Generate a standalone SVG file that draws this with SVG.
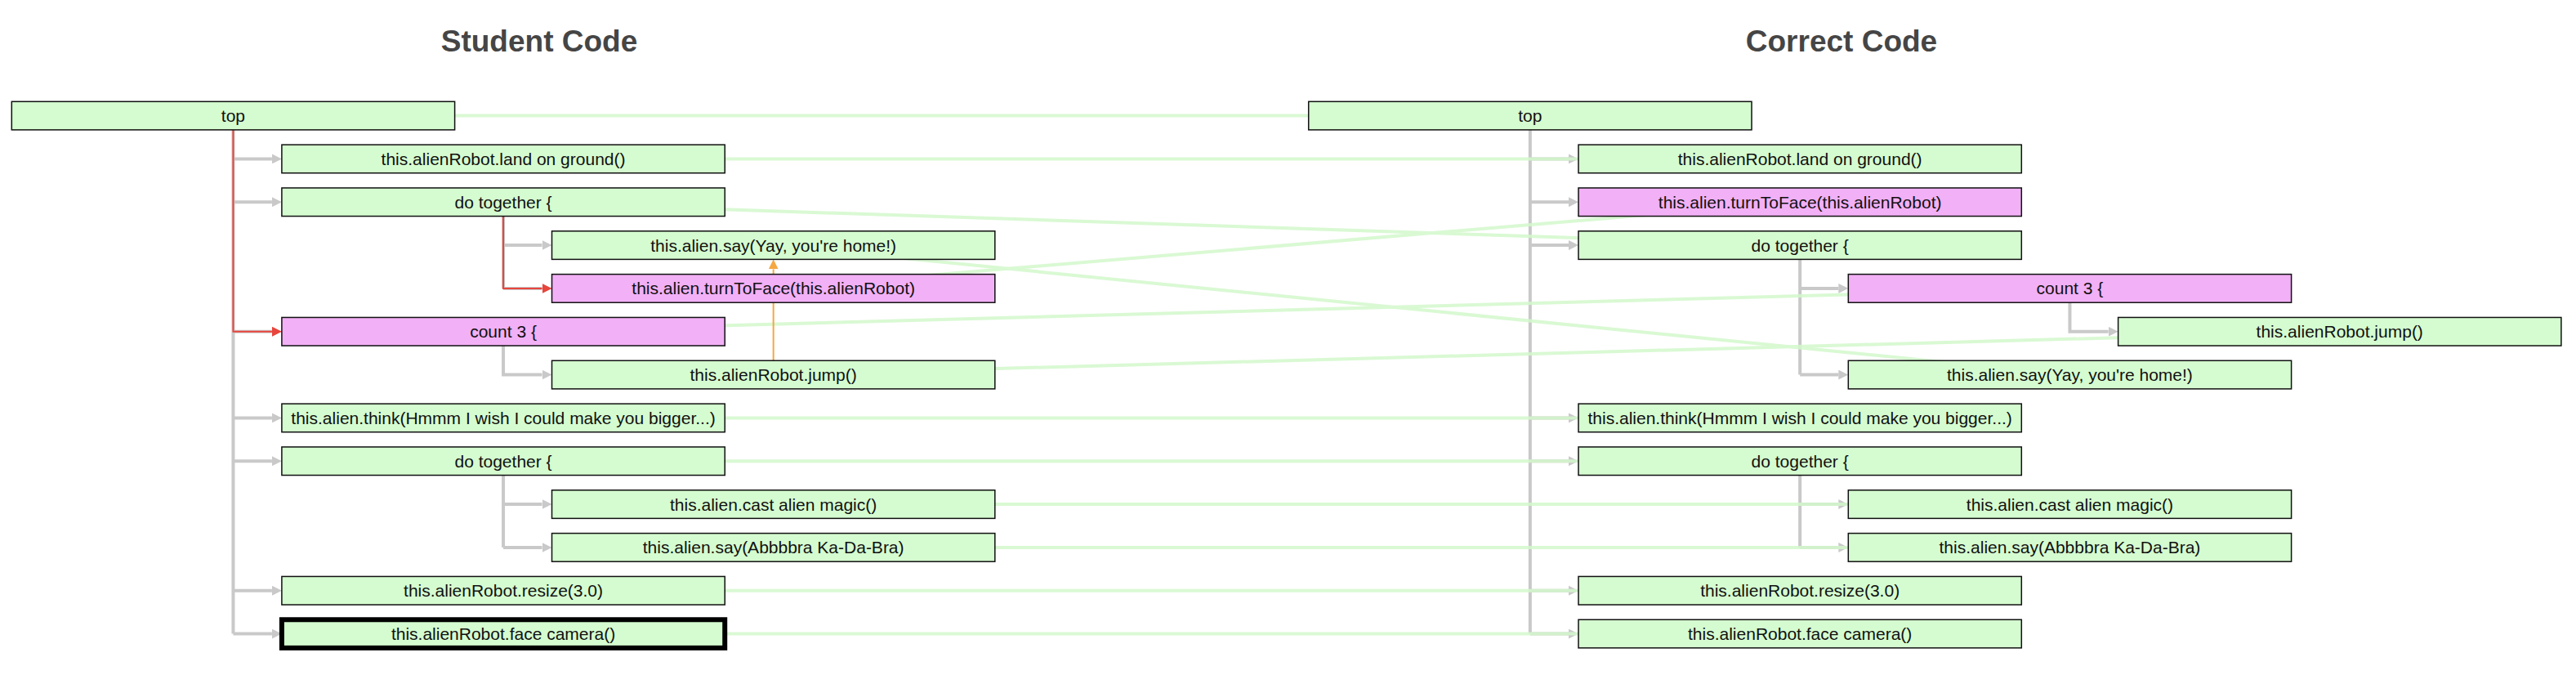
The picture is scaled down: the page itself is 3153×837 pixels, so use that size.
<svg xmlns="http://www.w3.org/2000/svg" width="3153" height="837" viewBox="0 0 3153 837">
<style>
.nd rect{stroke:#111;stroke-width:1.5}
.g{fill:#d5fcd0}
.p{fill:#f2b0f6}
.lbl{font-family:"Liberation Sans",Arial,Helvetica,sans-serif;font-size:21px;text-anchor:middle;fill:#111}
.title{font-family:"Liberation Sans",Arial,Helvetica,sans-serif;font-size:37px;font-weight:bold;text-anchor:middle;fill:#454545}
.tree{stroke:#c9c9c9;stroke-width:4;fill:none}
.tree .a{marker-end:url(#ag)}
.red{stroke:#e8453c;stroke-width:2;fill:none}
.match{stroke:#d3f8cc;stroke-width:4;opacity:.85;fill:none}
.orange{stroke:#f5a742;stroke-width:2;fill:none;marker-end:url(#ao)}
</style>
<defs>
<marker id="ag" markerUnits="userSpaceOnUse" markerWidth="12" markerHeight="12" refX="0" refY="6" orient="auto"><path d="M0,0L12,6L0,12z" fill="#c9c9c9"/></marker>
<marker id="ar" markerUnits="userSpaceOnUse" markerWidth="12" markerHeight="12" refX="0" refY="6" orient="auto"><path d="M0,0L12,6L0,12z" fill="#e8453c"/></marker>
<marker id="ao" markerUnits="userSpaceOnUse" markerWidth="12" markerHeight="12" refX="0" refY="6" orient="auto"><path d="M0,0L12,6L0,12z" fill="#f5a742"/></marker>
</defs>
<rect width="3153" height="837" fill="#fff"/>
<text class="title" x="660" y="63">Student Code</text>
<text class="title" x="2254" y="63">Correct Code</text>
<g id="connectors">
<g class="tree">
<path d="M285.45,158.9V775.56"/>
<path class="a" d="M285.45,194.43H332.9"/>
<path class="a" d="M285.45,247.26H332.9"/>
<path class="a" d="M285.45,405.75H332.9"/>
<path class="a" d="M285.45,511.41H332.9"/>
<path class="a" d="M285.45,564.24H332.9"/>
<path class="a" d="M285.45,722.73H332.9"/>
<path class="a" d="M285.45,775.56H332.9"/>
<path d="M616.05,264.56V352.92"/>
<path class="a" d="M616.05,300.09H663.5"/>
<path class="a" d="M616.05,352.92H663.5"/>
<path class="a" d="M616.05,423.05V458.58H663.5"/>
<path d="M616.05,581.54V669.9"/>
<path class="a" d="M616.05,617.07H663.5"/>
<path class="a" d="M616.05,669.9H663.5"/>
<path d="M1872.85,158.9V775.56"/>
<path class="a" d="M1872.85,194.43H1920"/>
<path class="a" d="M1872.85,247.26H1920"/>
<path class="a" d="M1872.85,300.09H1920"/>
<path class="a" d="M1872.85,511.41H1920"/>
<path class="a" d="M1872.85,564.24H1920"/>
<path class="a" d="M1872.85,722.73H1920"/>
<path class="a" d="M1872.85,775.56H1920"/>
<path d="M2203.15,317.39V458.58"/>
<path class="a" d="M2203.15,352.92H2250.3"/>
<path class="a" d="M2203.15,458.58H2250.3"/>
<path class="a" d="M2533.45,370.22V405.75H2580.6"/>
<path d="M2203.15,581.54V669.9"/>
<path class="a" d="M2203.15,617.07H2250.3"/>
<path class="a" d="M2203.15,669.9H2250.3"/>
</g>
<g class="red">
<path d="M285.45,158.9V405.75H332.9" marker-end="url(#ar)"/>
<path d="M616.05,264.56V352.92H663.5" marker-end="url(#ar)"/>
</g>
<g class="match">
<line x1="285.45" y1="141.6" x2="1872.85" y2="141.6"/>
<line x1="616.05" y1="194.43" x2="2203.15" y2="194.43"/>
<line x1="616.05" y1="247.26" x2="2203.15" y2="300.09"/>
<line x1="946.65" y1="300.09" x2="2533.45" y2="458.58"/>
<line x1="946.65" y1="352.92" x2="2203.15" y2="247.26"/>
<line x1="616.05" y1="405.75" x2="2533.45" y2="352.92"/>
<line x1="946.65" y1="458.58" x2="2863.75" y2="405.75"/>
<line x1="616.05" y1="511.41" x2="2203.15" y2="511.41"/>
<line x1="616.05" y1="564.24" x2="2203.15" y2="564.24"/>
<line x1="946.65" y1="617.07" x2="2533.45" y2="617.07"/>
<line x1="946.65" y1="669.9" x2="2533.45" y2="669.9"/>
<line x1="616.05" y1="722.73" x2="2203.15" y2="722.73"/>
<line x1="616.05" y1="775.56" x2="2203.15" y2="775.56"/>
</g>
<path class="orange" d="M946.65,441.28V329.4"/>
</g>
<g id="s-top" class="nd"><rect class="g" x="14.3" y="124.3" width="542.3" height="34.6"/><text class="lbl" x="285.45" y="149.1">top</text></g>
<g id="s-land" class="nd"><rect class="g" x="344.9" y="177.13" width="542.3" height="34.6"/><text class="lbl" x="616.05" y="201.93">this.alienRobot.land on ground()</text></g>
<g id="s-dotogether1" class="nd"><rect class="g" x="344.9" y="229.96" width="542.3" height="34.6"/><text class="lbl" x="616.05" y="254.76">do together {</text></g>
<g id="s-sayyay" class="nd"><rect class="g" x="675.5" y="282.79" width="542.3" height="34.6"/><text class="lbl" x="946.65" y="307.59">this.alien.say(Yay, you're home!)</text></g>
<g id="s-turn" class="nd"><rect class="p" x="675.5" y="335.62" width="542.3" height="34.6"/><text class="lbl" x="946.65" y="360.42">this.alien.turnToFace(this.alienRobot)</text></g>
<g id="s-count" class="nd"><rect class="p" x="344.9" y="388.45" width="542.3" height="34.6"/><text class="lbl" x="616.05" y="413.25">count 3 {</text></g>
<g id="s-jump" class="nd"><rect class="g" x="675.5" y="441.28" width="542.3" height="34.6"/><text class="lbl" x="946.65" y="466.08">this.alienRobot.jump()</text></g>
<g id="s-think" class="nd"><rect class="g" x="344.9" y="494.11" width="542.3" height="34.6"/><text class="lbl" x="616.05" y="518.91">this.alien.think(Hmmm I wish I could make you bigger...)</text></g>
<g id="s-dotogether2" class="nd"><rect class="g" x="344.9" y="546.94" width="542.3" height="34.6"/><text class="lbl" x="616.05" y="571.74">do together {</text></g>
<g id="s-cast" class="nd"><rect class="g" x="675.5" y="599.77" width="542.3" height="34.6"/><text class="lbl" x="946.65" y="624.57">this.alien.cast alien magic()</text></g>
<g id="s-sayabb" class="nd"><rect class="g" x="675.5" y="652.6" width="542.3" height="34.6"/><text class="lbl" x="946.65" y="677.4">this.alien.say(Abbbbra Ka-Da-Bra)</text></g>
<g id="s-resize" class="nd"><rect class="g" x="344.9" y="705.43" width="542.3" height="34.6"/><text class="lbl" x="616.05" y="730.23">this.alienRobot.resize(3.0)</text></g>
<g id="s-face" class="nd"><rect class="g" x="344.9" y="758.26" width="542.3" height="34.6" style="stroke:#000;stroke-width:6"/><text class="lbl" x="616.05" y="783.06">this.alienRobot.face camera()</text></g>
<g id="c-top" class="nd"><rect class="g" x="1601.7" y="124.3" width="542.3" height="34.6"/><text class="lbl" x="1872.85" y="149.1">top</text></g>
<g id="c-land" class="nd"><rect class="g" x="1932" y="177.13" width="542.3" height="34.6"/><text class="lbl" x="2203.15" y="201.93">this.alienRobot.land on ground()</text></g>
<g id="c-turn" class="nd"><rect class="p" x="1932" y="229.96" width="542.3" height="34.6"/><text class="lbl" x="2203.15" y="254.76">this.alien.turnToFace(this.alienRobot)</text></g>
<g id="c-dotogether1" class="nd"><rect class="g" x="1932" y="282.79" width="542.3" height="34.6"/><text class="lbl" x="2203.15" y="307.59">do together {</text></g>
<g id="c-count" class="nd"><rect class="p" x="2262.3" y="335.62" width="542.3" height="34.6"/><text class="lbl" x="2533.45" y="360.42">count 3 {</text></g>
<g id="c-jump" class="nd"><rect class="g" x="2592.6" y="388.45" width="542.3" height="34.6"/><text class="lbl" x="2863.75" y="413.25">this.alienRobot.jump()</text></g>
<g id="c-sayyay" class="nd"><rect class="g" x="2262.3" y="441.28" width="542.3" height="34.6"/><text class="lbl" x="2533.45" y="466.08">this.alien.say(Yay, you're home!)</text></g>
<g id="c-think" class="nd"><rect class="g" x="1932" y="494.11" width="542.3" height="34.6"/><text class="lbl" x="2203.15" y="518.91">this.alien.think(Hmmm I wish I could make you bigger...)</text></g>
<g id="c-dotogether2" class="nd"><rect class="g" x="1932" y="546.94" width="542.3" height="34.6"/><text class="lbl" x="2203.15" y="571.74">do together {</text></g>
<g id="c-cast" class="nd"><rect class="g" x="2262.3" y="599.77" width="542.3" height="34.6"/><text class="lbl" x="2533.45" y="624.57">this.alien.cast alien magic()</text></g>
<g id="c-sayabb" class="nd"><rect class="g" x="2262.3" y="652.6" width="542.3" height="34.6"/><text class="lbl" x="2533.45" y="677.4">this.alien.say(Abbbbra Ka-Da-Bra)</text></g>
<g id="c-resize" class="nd"><rect class="g" x="1932" y="705.43" width="542.3" height="34.6"/><text class="lbl" x="2203.15" y="730.23">this.alienRobot.resize(3.0)</text></g>
<g id="c-face" class="nd"><rect class="g" x="1932" y="758.26" width="542.3" height="34.6"/><text class="lbl" x="2203.15" y="783.06">this.alienRobot.face camera()</text></g>
</svg>
